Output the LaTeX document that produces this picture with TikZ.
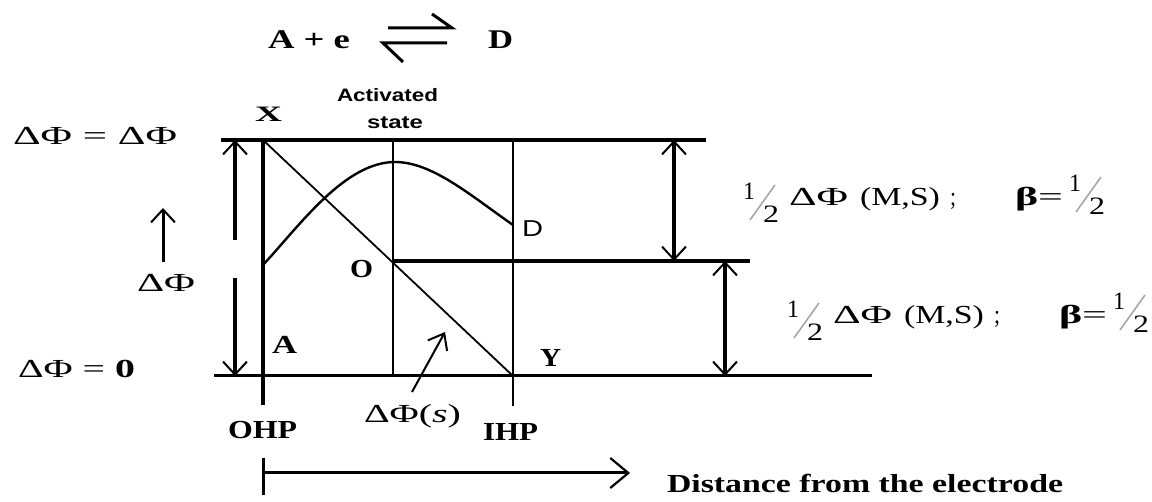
\documentclass[tikz,border=0pt]{standalone}
\usepackage{fontspec}
\setmainfont{Liberation Serif}
\newfontfamily\sansf{Liberation Sans}
\usetikzlibrary{arrows.meta,calc}
\newcommand\W[2]{\resizebox{#1pt}{\height}{#2}}
\newcommand\DPhi{ΔΦ}
\newcommand\halfat[3]{%
  \node[num] (#1a) at (#2,#3) {\W{12}{1}};
  \node[num] (#1b) at ($(#1a.base west)+(20,23)$) {\W{16}{2}};
  \draw[slashs] ($(#1a.base west)+(7,20)$) -- ($(#1a.base west)+(32,-15)$);
}
\newcommand\rowlabels[1]{%
  \halfat{#1h1}{743}{200}
  \node[lbl] (#1phi) at (789,206) {\W{59}{\DPhi}};
  \node[lbl] (#1ms) at (860,206) {\W{80}{(M,S)}};
  \node[lbl] (#1semi) at (950,206) {\W{6}{;}};
  \node[lbl] (#1beta) at (1015,206) {\W{48}{\textbf{β}=}};
  \halfat{#1h2}{1069}{192}
}
\tikzset{
  lbl/.style={inner sep=0pt, outer sep=0pt, anchor=base west, font=\fontsize{26}{28}\selectfont},
  blbl/.style={lbl, font=\fontsize{26}{28}\selectfont\bfseries},
  slbl/.style={lbl, font=\fontsize{18}{20}\selectfont\sansf\bfseries},
  num/.style={lbl, font=\fontsize{25}{27}\selectfont},
  slashs/.style={line width=1.6pt, gray!70},
  mybarb/.tip={Straight Barb[length=13pt,width=24pt,line width=2pt]},
  smallbarb/.tip={Straight Barb[length=14pt,width=22pt,line width=2pt]},
  bigbarb/.tip={Straight Barb[length=18pt,width=30pt,line width=2.2pt]},
  heavy/.style={line width=4pt},
  mid/.style={line width=3pt},
  thin/.style={line width=2.2pt},
}
\begin{document}
\begin{tikzpicture}[x=1pt,y=-1pt,line cap=butt]
\useasboundingbox (0,0) rectangle (1152,502);
% equation
\node[blbl, font=\fontsize{27}{28}\selectfont\bfseries] (eqA) at (268,49) {\W{82}{A + e}};
\node[blbl, font=\fontsize{27}{28}\selectfont\bfseries] (eqD) at (488,49) {\W{25}{D}};
\coordinate (H1a) at (388,28); \coordinate (H1b) at (452,28); \coordinate (H1c) at (432,14);
\coordinate (H2a) at (383,43); \coordinate (H2b) at (447,43); \coordinate (H2c) at (403,62);
\draw[mid] (H1a) -- (H1b) -- (H1c);
\draw[mid] (H2b) -- (H2a) -- (H2c);
% coordinates
\coordinate (TL) at (221,140); \coordinate (TR) at (706,140);
\coordinate (OL) at (393,261); \coordinate (OR) at (750,261);
\coordinate (BL) at (214,376); \coordinate (BR) at (872,376);
\coordinate (OHPt) at (263,140); \coordinate (OHPb) at (263,405);
\coordinate (MIDt) at (393,140); \coordinate (MIDb) at (393,376);
\coordinate (IHPt) at (513,140); \coordinate (IHPb) at (513,406);
\coordinate (Yp) at (513,376);
\coordinate (Cs) at (263,265); \coordinate (Cp) at (395,162); \coordinate (Ce) at (513,225);
\coordinate (LAt) at (235,140); \coordinate (LAm1) at (235,240);
\coordinate (LAm2) at (235,278); \coordinate (LAb) at (235,376);
\coordinate (UAb) at (163,262); \coordinate (UAt) at (163,208);
\coordinate (RA1t) at (674,140); \coordinate (RA1b) at (674,261);
\coordinate (RA2t) at (725,261); \coordinate (RA2b) at (725,376);
\coordinate (SAs) at (412,392); \coordinate (SAe) at (445,332);
\coordinate (DAs) at (263,473); \coordinate (DAe) at (630,473);
\coordinate (DTt) at (263,458); \coordinate (DTb) at (263,495);
% horizontal levels
\draw[heavy] (TL) -- (TR);
\draw[heavy] (OL) -- (OR);
\draw[mid] (BL) -- (BR);
% verticals
\draw[line width=3.5pt] (OHPt) -- (OHPb);
\draw[thin] (MIDt) -- (MIDb);
\draw[thin] (IHPt) -- (IHPb);
% diagonal and curve
\draw[line width=1.8pt] (OHPt) -- (Yp);
\draw[line width=2.4pt] (Cs) .. controls (300,225) and (345,162) .. (Cp)
      .. controls (432,162) and (470,195) .. (Ce);
% arrows
\draw[line width=3.5pt, -{mybarb}] (LAm1) -- (LAt);
\draw[line width=3.5pt, -{mybarb}] (LAm2) -- (LAb);
\draw[line width=3pt, -{mybarb}] (UAb) -- (UAt);
\draw[heavy, {mybarb}-{mybarb}] (RA1b) -- (RA1t);
\draw[heavy, {mybarb}-{mybarb}] (RA2b) -- (RA2t);
\draw[line width=2pt, -{smallbarb}] (SAs) -- (SAe);
\draw[mid, -{bigbarb}] (DAs) -- (DAe);
\draw[mid] (DTt) -- (DTb);
% left labels
\node[lbl] (phiTop) at (13,145) {\W{164}{\DPhi{} = \DPhi}};
\node[lbl] (phiZero) at (18,378) {\W{117}{\DPhi{} = \textbf{0}}};
\node[lbl] (phiMid) at (137,292) {\W{58}{\DPhi}};
% point labels
\node[blbl, font=\fontsize{22}{24}\selectfont\bfseries] (lX) at (255,122) {\W{27}{X}};
\node[slbl] (act1) at (337,102) {\W{101}{Activated}};
\node[slbl] (act2) at (367,129) {\W{56}{state}};
\node[blbl] (lA) at (272,354) {\W{25}{A}};
\node[blbl] (lO) at (350,278) {\W{23}{O}};
\node[blbl] (lY) at (540,367) {\W{21}{Y}};
\node[lbl, font=\fontsize{23}{25}\selectfont\sansf] (lD) at (522,237) {\W{21}{D}};
\node[blbl] (lOHP) at (228,439) {\W{69}{OHP}};
\node[blbl] (lIHP) at (483,441) {\W{55}{IHP}};
\node[lbl] (lphis) at (364,423) {\W{97}{\DPhi(\textit{s})}};
% right labels
\rowlabels{r1}
\begin{scope}[shift={(44,118)}]
\rowlabels{r2}
\end{scope}
% distance label
\node[blbl] (dist) at (667,493) {\W{396}{Distance from the electrode}};
\end{tikzpicture}
\end{document}
